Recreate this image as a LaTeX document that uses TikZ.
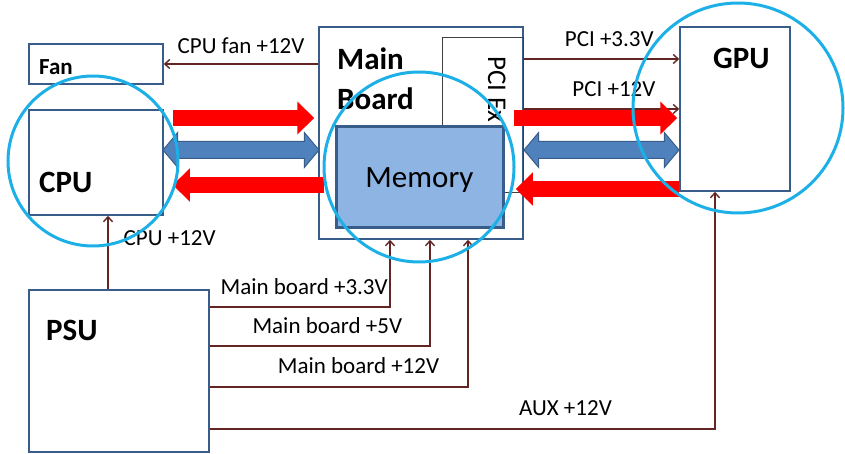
\documentclass[tikz,border=0pt]{standalone}
\usepackage{fontspec}
\setmainfont{Carlito}
\usetikzlibrary{arrows.meta,shapes.arrows}

\definecolor{boxline}{HTML}{385D8A}
\definecolor{memfill}{HTML}{8DB4E2}
\definecolor{wire}{HTML}{632523}
\definecolor{busfill}{HTML}{4F81BD}
\definecolor{ringblue}{HTML}{1CB0E6}

\begin{document}
\begin{tikzpicture}[x=1pt, y=-1pt,
  box/.style={draw=boxline, line width=1.5pt, fill=white, inner sep=0pt},
  pw/.style={draw=wire, line width=1.4pt, -{Straight Barb[length=5pt,width=9pt]}},
  lbl/.style={font=\fontsize{23}{27}\selectfont, inner sep=0pt},
  heading/.style={font=\fontsize{31}{36}\selectfont\bfseries, inner sep=0pt},
  redbus/.style={draw=red, line width=16pt, -{Triangle[width=32pt,length=17pt]}},
  databus/.style={shape=double arrow, fill=busfill, draw=boxline, line width=1pt,
    inner xsep=0pt, inner ysep=8pt, minimum width=34pt, double arrow head extend=9pt,
    double arrow tip angle=100},
  ring/.style={draw=ringblue, line width=3pt}]
  \useasboundingbox (0,0) rectangle (845,454);
  % boxes
  \node[box, minimum width=134pt, minimum height=40pt] (fan) at (96,64) {};
  \node[box, minimum width=134pt, minimum height=105pt] (cpu) at (96,162.5) {};
  \node[box, minimum width=204pt, minimum height=212pt] (main) at (421,133) {};
  \node[draw=black!75, line width=1pt, inner sep=0pt, minimum width=81pt,
    minimum height=155pt] (pcie) at (482.5,115.5) {};
  \node[rotate=-90, anchor=base west, font=\fontsize{27}{30}\selectfont,
    inner sep=0pt] (pcitxt) at (488,56) {PCI Ex};
  \node[box, fill=memfill, line width=3pt, minimum width=167pt, minimum height=101pt,
    text depth=0pt, font=\fontsize{31}{36}\selectfont] (mem) at (419.5,177.5) {Memory};
  \node[box, minimum width=110pt, minimum height=164pt] (gpu) at (735,109) {};
  \node[box, minimum width=180pt, minimum height=162pt] (psu) at (119,371) {};
  % box titles
  \node[heading, font=\fontsize{23}{27}\selectfont\bfseries, anchor=west] (fantxt) at (39,67) {Fan};
  \node[heading, anchor=base west] (cputxt) at (39,193) {CPU};
  \node[heading, anchor=base west] (maintxt) at (337,70) {Main};
  \node[heading, anchor=base west] (boardtxt) at (337,110) {Board};
  \node[heading, anchor=base west] (gputxt) at (713,69) {GPU};
  \node[heading, anchor=base west] (psutxt) at (46,340) {PSU};
  % power rails
  \coordinate (pci33) at (0,59);
  \coordinate (cpuv) at (108,0);
  \coordinate (v33) at (390,307);
  \coordinate (v5) at (430,346);
  \coordinate (v12) at (468,387);
  \coordinate (vaux) at (715,429);
  \draw[pw] (main.west |- fan) -- (fan) node[lbl, midway, above=10pt] {CPU fan +12V};
  \draw[pw] (main.east |- pci33) -- (gpu.west |- pci33) node[lbl, pos=0.55, above=12pt] {PCI +3.3V};
  \draw[pw] (main.east |- gpu) -- (gpu) node[lbl, pos=0.58, above=12pt] {PCI +12V};
  \draw[pw] (psu.north -| cpuv) -- (cpu.south -| cpuv) node[lbl, pos=0.7, right=15pt] {CPU +12V};
  \draw[pw] (psu.east |- v33) -| (main.south -| v33) node[lbl, pos=0.262, above=12pt] {Main board +3.3V};
  \draw[pw] (psu.east |- v5) -| (main.south -| v5) node[lbl, pos=0.267, above=12pt] {Main board +5V};
  \draw[pw] (psu.east |- v12) -| (main.south -| v12) node[lbl, pos=0.288, above=13pt] {Main board +12V};
  \draw[pw] (psu.east |- vaux) -| (gpu.south -| vaux) node[lbl, pos=0.352, above=13pt] {AUX +12V};
  % data paths
  \coordinate (rtop) at (0,118);
  \coordinate (rbot) at (0,185);
  \coordinate (rgpu) at (0,189);
  \coordinate (dbus) at (0,150);
  \draw[redbus, shorten <=9pt, shorten >=4pt] (cpu.east |- rtop) -- (main.west |- rtop);
  \draw[redbus, shorten <=-6pt, shorten >=9pt] (main.west |- rbot) -- (cpu.east |- rbot);
  \draw[redbus, shorten <=-10pt, shorten >=2pt] (main.east |- rtop) -- (gpu.west |- rtop);
  \draw[redbus, shorten >=-8pt] (gpu.west |- rgpu) -- (main.east |- rgpu);
  \path (cpu.east |- dbus) -- (main.west |- dbus) node[databus, midway, minimum height=156pt] (busl) {};
  \path (main.east |- dbus) -- (gpu.west |- dbus) node[databus, midway, minimum height=155pt] (busr) {};
  % highlight rings
  \draw[ring] (93,161) circle[radius=85pt];
  \draw[ring] (419,167) circle[radius=95pt];
  \draw[ring] (738,108) circle[radius=105pt];
\end{tikzpicture}
\end{document}
